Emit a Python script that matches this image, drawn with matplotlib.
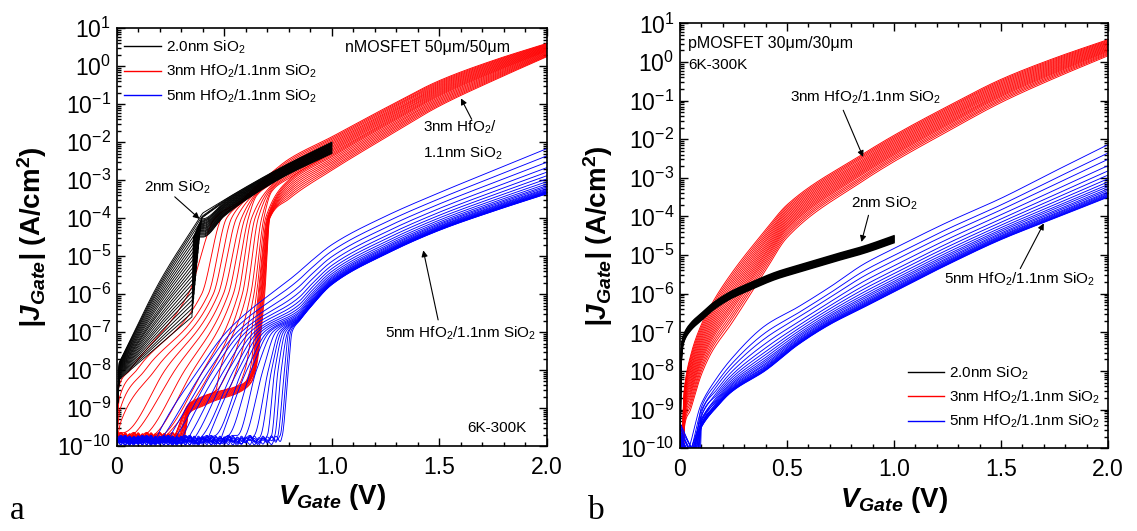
import numpy as np
import matplotlib
matplotlib.use("Agg")
import matplotlib.pyplot as plt
from matplotlib.ticker import LogLocator, MultipleLocator, FuncFormatter, NullFormatter
from matplotlib.lines import Line2D

plt.rcParams.update({
    "font.family": ["Liberation Sans", "DejaVu Sans"],
    "mathtext.fontset": "custom",
    "mathtext.rm": "Liberation Sans",
    "mathtext.it": "Liberation Sans:italic",
    "mathtext.bf": "Liberation Sans:bold",
    "mathtext.bfit": "Liberation Sans:italic:bold",
    "mathtext.default": "regular",
})

# ------------------------------------------------------------------
# Gate current density, log10(|J| / A cm^-2), temperature sweeps 6K-300K
# ------------------------------------------------------------------

# measurement noise floor of the nMOS sweeps, 20 mV steps from 0 V
floor_j = [-9.82, -9.90, -9.76, -9.88, -9.95, -9.80, -9.72, -9.86, -9.93, -9.78,
           -9.84, -9.96, -9.74, -9.88, -9.81, -9.92, -9.77, -9.85, -9.98, -9.79,
           -9.87, -9.73, -9.90, -9.83, -9.95, -9.76, -9.86, -9.80, -9.92, -9.74,
           -9.89, -9.82, -9.97, -9.78, -9.85, -9.91, -9.75, -9.88, -9.81, -9.94, -9.79]

# --- (a) nMOSFET, 2.0nm SiO2 ---
a_sio2_start = [-8.25, -8.23, -8.21, -8.19, -8.17, -8.15, -8.13, -8.11, -8.09, -8.07, -8.05, -8.03,
                -8.01, -7.99, -7.97, -7.95, -7.93, -7.91, -7.89, -7.87, -7.85, -7.83, -7.81, -7.80]
a_sio2_mid_j = [-7.33, -7.25, -7.18, -7.10, -7.02, -6.94, -6.86, -6.79, -6.71, -6.63, -6.56, -6.48,
                -6.42, -6.35, -6.27, -6.20, -6.13, -6.06, -5.99, -5.92, -5.85, -5.79, -5.73, -5.67]
a_sio2_kink_v = [0.350, 0.352, 0.354, 0.356, 0.358, 0.360, 0.362, 0.364, 0.366, 0.368, 0.370, 0.372,
                 0.374, 0.376, 0.378, 0.380, 0.382, 0.384, 0.386, 0.388, 0.390, 0.392, 0.394, 0.396]
a_sio2_kink_j = [-6.60, -6.48, -6.36, -6.24, -6.12, -6.00, -5.88, -5.76, -5.64, -5.52, -5.40, -5.28,
                 -5.16, -5.04, -4.92, -4.80, -4.68, -4.56, -4.44, -4.32, -4.20, -4.08, -3.98, -3.90]
a_sio2_pos = [0.00, 0.04, 0.09, 0.13, 0.17, 0.22, 0.26, 0.30, 0.35, 0.39, 0.43, 0.48,
              0.52, 0.57, 0.61, 0.65, 0.70, 0.74, 0.78, 0.83, 0.87, 0.91, 0.96, 1.00]
a_sio2_mid_v = 0.20
a_sio2_band_v = [0.40, 0.50, 0.62, 0.78, 1.00]
a_sio2_band_lo = [-4.50, -3.95, -3.45, -2.90, -2.30]
a_sio2_band_hi = [-3.92, -3.52, -3.12, -2.62, -2.00]

# --- (a) nMOSFET, 3nm HfO2/1.1nm SiO2 ---
a_hf3_start_v = [0.010, 0.012, 0.015, 0.020, 0.030, 0.060, 0.100, 0.140, 0.180, 0.220, 0.255, 0.262,
                 0.268, 0.274, 0.280, 0.285, 0.290, 0.294, 0.298, 0.302, 0.305, 0.308, 0.311, 0.314]
a_hf3_start_j = [-8.45, -8.75, -9.05, -9.35, -9.65, -9.78, -9.78, -9.78, -9.78, -9.78, -9.78, -9.78,
                 -9.78, -9.78, -9.78, -9.78, -9.78, -9.78, -9.78, -9.78, -9.78, -9.78, -9.78, -9.78]
a_hf3_v8 = [0.062, 0.093, 0.132, 0.178, 0.225, 0.271, 0.317, 0.356, 0.403, 0.441, 0.480, 0.519,
            0.557, 0.596, 0.620, 0.628, 0.631, 0.634, 0.636, 0.638, 0.640, 0.642, 0.644, 0.646]
a_hf3_v6 = [0.333, 0.395, 0.426, 0.449, 0.472, 0.496, 0.519, 0.542, 0.565, 0.584, 0.604, 0.623,
            0.638, 0.650, 0.658, 0.662, 0.666, 0.670, 0.673, 0.676, 0.679, 0.682, 0.685, 0.688]
a_hf3_v4 = [0.457, 0.488, 0.511, 0.534, 0.557, 0.580, 0.596, 0.612, 0.627, 0.643, 0.658, 0.674,
            0.684, 0.692, 0.698, 0.701, 0.703, 0.705, 0.707, 0.708, 0.709, 0.710, 0.711, 0.712]
a_hf3_shelf_off = [0.00, 0.00, 0.00, 0.00, 0.00, 0.00, 0.00, 0.00, 0.00, 0.00, 0.26, 0.24,
                   0.22, 0.20, 0.18, 0.16, 0.14, 0.12, 0.10, 0.08, 0.06, 0.04, 0.02, 0.00]
a_hf3_pos = [1.00, 0.96, 0.92, 0.88, 0.84, 0.80, 0.76, 0.72, 0.68, 0.64, 0.60, 0.56,
             0.52, 0.48, 0.44, 0.40, 0.35, 0.30, 0.25, 0.20, 0.15, 0.10, 0.05, 0.00]
a_hf3_shelf_v = [0.335, 0.400, 0.460, 0.520, 0.565, 0.600, 0.627]
a_hf3_shelf_j = [-9.15, -8.95, -8.80, -8.70, -8.60, -8.48, -8.31]
a_hf3_band_v = [0.58, 0.65, 0.72, 0.80, 1.00, 1.25, 1.50, 1.75, 2.00]
a_hf3_band_lo = [-4.37, -4.09, -3.85, -3.50, -2.74, -1.88, -1.05, -0.38, 0.25]
a_hf3_band_hi = [-3.53, -3.15, -2.80, -2.45, -1.86, -1.10, -0.38, 0.15, 0.60]

# --- (a) nMOSFET, 5nm HfO2/1.1nm SiO2 ---
a_hf5_start_v = [0.19, 0.22, 0.25, 0.28, 0.31, 0.34, 0.37, 0.40, 0.43, 0.46, 0.49,
                 0.52, 0.56, 0.60, 0.64, 0.67, 0.70, 0.72, 0.735, 0.75, 0.76, 0.77]
a_hf5_v8 = [0.380, 0.405, 0.430, 0.450, 0.475, 0.500, 0.520, 0.545, 0.565, 0.585, 0.605,
            0.625, 0.650, 0.680, 0.705, 0.720, 0.735, 0.750, 0.765, 0.780, 0.790, 0.798]
a_hf5_v7 = [0.510, 0.535, 0.560, 0.580, 0.600, 0.620, 0.640, 0.655, 0.670, 0.685, 0.700,
            0.710, 0.725, 0.740, 0.755, 0.765, 0.775, 0.785, 0.795, 0.800, 0.808, 0.815]
a_hf5_pos = [1.00, 0.84, 0.70, 0.58, 0.48, 0.40, 0.33, 0.27, 0.22, 0.18, 0.15,
             0.12, 0.10, 0.08, 0.065, 0.05, 0.04, 0.03, 0.02, 0.012, 0.005, 0.00]
a_hf5_band_v = [0.85, 0.90, 1.00, 1.25, 1.50, 1.75, 2.00]
a_hf5_band_lo = [-6.70, -6.35, -5.75, -4.95, -4.32, -3.82, -3.36]
a_hf5_band_hi = [-5.40, -5.15, -4.70, -3.95, -3.33, -2.75, -2.17]

# --- (b) pMOSFET, 2.0nm SiO2 ---
b_sio2_v = [0.000, 0.002, 0.005, 0.010, 0.020, 0.050, 0.100, 0.160, 0.240, 0.320,
            0.450, 0.550, 0.700, 0.860, 1.000]
b_sio2_j = [-10.20, -8.90, -7.90, -7.45, -7.22, -6.95, -6.69, -6.40, -6.12, -5.92,
            -5.62, -5.45, -5.20, -4.95, -4.68]
b_sio2_off = [0.00, 0.02, 0.04, 0.06, 0.08, 0.10, 0.12, 0.14, 0.16, 0.18]

# --- (b) pMOSFET, 3nm HfO2/1.1nm SiO2 ---
b_hf3_v = [0.020, 0.050, 0.100, 0.150, 0.240, 0.400, 0.500, 0.850, 1.000, 1.250, 1.500, 1.750, 2.000]
b_hf3_hi = [-8.50, -7.60, -6.80, -6.25, -5.48, -4.35, -3.70, -2.40, -1.90, -1.15, -0.45, 0.10, 0.58]
b_hf3_lo = [-9.50, -9.00, -8.10, -7.50, -6.78, -5.40, -4.55, -3.10, -2.58, -1.80, -1.05, -0.42, 0.16]
b_hf3_pos = [1.00, 0.95, 0.90, 0.85, 0.80, 0.75, 0.70, 0.65, 0.60, 0.55,
             0.50, 0.45, 0.40, 0.35, 0.30, 0.25, 0.19, 0.13, 0.07, 0.00]
b_hf3_zero_j = [-9.20, -9.30, -9.25, -9.40, -9.35, -9.50, -9.45, -9.55, -9.60, -9.50,
                -9.65, -9.70, -9.60, -9.75, -9.70, -9.80, -9.75, -9.85, -9.80, -9.90]
b_hf3_dip_v = [0.006, 0.007, 0.008, 0.009, 0.010, 0.011, 0.011, 0.012, 0.012, 0.013,
               0.013, 0.014, 0.014, 0.015, 0.015, 0.016, 0.016, 0.017, 0.017, 0.018]

# --- (b) pMOSFET, 5nm HfO2/1.1nm SiO2 ---
b_hf5_v = [0.10, 0.17, 0.24, 0.40, 0.55, 0.70, 0.86, 1.00, 1.25, 1.50, 1.75, 2.00]
b_hf5_hi = [-8.85, -8.20, -7.69, -6.82, -6.35, -5.83, -5.23, -4.83, -4.15, -3.53, -2.83, -2.14]
b_hf5_lo = [-9.46, -8.95, -8.55, -7.99, -7.33, -6.80, -6.35, -5.95, -5.25, -4.60, -4.05, -3.50]
b_hf5_pos = [1.00, 0.84, 0.72, 0.60, 0.50, 0.42, 0.35, 0.29, 0.24, 0.20,
             0.16, 0.13, 0.10, 0.08, 0.06, 0.045, 0.03, 0.018, 0.008, 0.00]
b_hf5_zero_j = [-9.50, -9.70, -9.30, -9.80, -9.60, -9.40, -9.75, -9.55, -9.65, -9.35,
                -9.85, -9.45, -9.70, -9.60, -9.90, -9.50, -9.80, -9.65, -9.75, -9.55]
b_hf5_dip_v = [0.020, 0.060, 0.035, 0.080, 0.045, 0.090, 0.030, 0.070, 0.050, 0.085,
               0.025, 0.065, 0.040, 0.075, 0.055, 0.095, 0.030, 0.060, 0.045, 0.080]

legend_labels = [r"2.0nm SiO$_2$", r"3nm HfO$_2$/1.1nm SiO$_2$", r"5nm HfO$_2$/1.1nm SiO$_2$"]
family_colors = ["black", "red", "blue"]

LW = 0.65
floor_v = np.arange(len(floor_j)) * 0.02


def band(lo, hi, p):
    lo = np.asarray(lo, float)
    hi = np.asarray(hi, float)
    return lo + p * (hi - lo)


def smooth_line(x, y, npts=900):
    """Shape-preserving (monotone) cubic through the knots, sampled finely for drawing."""
    x = np.asarray(x, float)
    y = np.asarray(y, float)
    order = np.argsort(x, kind="stable")
    x, y = x[order], y[order]
    keep = np.concatenate([[True], np.diff(x) > 1e-6])
    x, y = x[keep], y[keep]
    n = len(x)
    if n < 3:
        return x, y
    h = np.diff(x)
    d = np.diff(y) / h
    m = np.zeros(n)
    m[0], m[-1] = d[0], d[-1]
    for k in range(1, n - 1):
        if d[k - 1] * d[k] <= 0:
            m[k] = 0.0
        else:
            w1 = 2 * h[k] + h[k - 1]
            w2 = h[k] + 2 * h[k - 1]
            m[k] = (w1 + w2) / (w1 / d[k - 1] + w2 / d[k])
    xs = np.unique(np.concatenate([np.linspace(x[0], x[-1], npts), x]))
    idx = np.clip(np.searchsorted(x, xs, side="right") - 1, 0, n - 2)
    t = (xs - x[idx]) / h[idx]
    h00 = 2 * t ** 3 - 3 * t ** 2 + 1
    h10 = t ** 3 - 2 * t ** 2 + t
    h01 = -2 * t ** 3 + 3 * t ** 2
    h11 = t ** 3 - t ** 2
    ys = h00 * y[idx] + h10 * h[idx] * m[idx] + h01 * y[idx + 1] + h11 * h[idx] * m[idx + 1]
    return xs, ys


def draw(ax, v, j, color, z, lw=LW):
    xs, ys = smooth_line(v, j)
    ax.plot(xs, 10.0 ** ys, color=color, lw=lw, zorder=z)


fig = plt.figure(figsize=(11.37, 5.31), dpi=100)
ax1 = fig.add_axes([0.1026, 0.160, 0.3785, 0.787])
ax2 = fig.add_axes([0.598, 0.156, 0.3765, 0.800])

# ---------------- panel (a) ----------------
# 3nm HfO2 stack
for i in range(len(a_hf3_v8)):
    sv, sj = a_hf3_start_v[i], a_hf3_start_j[i]
    fj = np.roll(np.asarray(floor_j) + 0.08, 3 * i)
    if sj > -9.7:
        v = [0.0]
        j = [fj[0]]
    else:
        m = floor_v < sv - 0.005
        v = list(floor_v[m])
        j = list(fj[m])
    v.append(sv)
    j.append(sj)
    if sv >= 0.25:
        for shv, shj in zip(a_hf3_shelf_v, a_hf3_shelf_j):
            if sv + 0.01 < shv < a_hf3_v8[i] - 0.015:
                v.append(shv)
                j.append(shj + a_hf3_shelf_off[i])
    v += [a_hf3_v8[i], a_hf3_v6[i], a_hf3_v4[i]]
    j += [-8.0, -6.0, -4.0]
    bv = np.asarray(a_hf3_band_v)
    bj = band(a_hf3_band_lo, a_hf3_band_hi, a_hf3_pos[i])
    keep = bv > a_hf3_v4[i] + 0.03
    v += list(bv[keep])
    j += list(bj[keep])
    draw(ax1, v, j, "red", 2.0)

# 5nm HfO2 stack
for i in range(len(a_hf5_v8)):
    sv = a_hf5_start_v[i]
    fj = np.roll(np.asarray(floor_j), 5 * i + 2)
    m = floor_v < sv - 0.005
    v = list(floor_v[m]) + [sv, a_hf5_v8[i], a_hf5_v7[i]]
    j = list(fj[m]) + [-9.72, -8.0, -7.0]
    bv = np.asarray(a_hf5_band_v)
    bj = band(a_hf5_band_lo, a_hf5_band_hi, a_hf5_pos[i])
    keep = bv > a_hf5_v7[i] + 0.03
    v += list(bv[keep])
    j += list(bj[keep])
    draw(ax1, v, j, "blue", 2.1)

# 2.0nm SiO2: low-bias branch, jump at the kink, then the common upper band
for i in range(len(a_sio2_kink_v)):
    k, e = a_sio2_kink_v[i], a_sio2_kink_j[i]
    bv = np.asarray(a_sio2_band_v)
    bj = band(a_sio2_band_lo, a_sio2_band_hi, a_sio2_pos[i])
    vj = k + 0.006
    jj = max(np.interp(vj, bv, bj), e + 0.04)
    keep = bv > vj + 0.005
    lo_v, lo_j = smooth_line([0.012, a_sio2_mid_v, k], [a_sio2_start[i], a_sio2_mid_j[i], e], 200)
    up_v, up_j = smooth_line([vj] + list(bv[keep]), [jj] + list(bj[keep]), 300)
    v = np.concatenate([[0.0, 0.004], lo_v, up_v])
    j = np.concatenate([[-9.75, -8.90], lo_j, up_j])
    ax1.plot(v, 10.0 ** j, color="black", lw=LW, zorder=2.2)

# ---------------- panel (b) ----------------
for i in range(len(b_hf3_pos)):
    v = [0.0, b_hf3_dip_v[i]] + list(b_hf3_v)
    j = [b_hf3_zero_j[i], -10.05] + list(band(b_hf3_lo, b_hf3_hi, b_hf3_pos[i]))
    draw(ax2, v, j, "red", 2.0)

for i in range(len(b_hf5_pos)):
    v = [0.0, b_hf5_dip_v[i]] + list(b_hf5_v)
    j = [b_hf5_zero_j[i], -10.2] + list(band(b_hf5_lo, b_hf5_hi, b_hf5_pos[i]))
    draw(ax2, v, j, "blue", 2.1)

for off in b_sio2_off:
    draw(ax2, b_sio2_v, np.asarray(b_sio2_j) + off, "black", 2.2, lw=1.1)


# ---------------- axes styling ----------------
def style(ax):
    ax.set_yscale("log")
    ax.set_xlim(0, 2.0)
    ax.set_ylim(1e-10, 10)
    ax.xaxis.set_major_locator(MultipleLocator(0.5))
    ax.xaxis.set_minor_locator(MultipleLocator(0.1))
    ax.xaxis.set_major_formatter(FuncFormatter(lambda x, p: "0" if abs(x) < 1e-9 else f"{x:.1f}"))
    ax.yaxis.set_major_locator(LogLocator(base=10, numticks=20))
    ax.yaxis.set_minor_locator(LogLocator(base=10, subs=np.arange(2, 10), numticks=20))
    ax.yaxis.set_minor_formatter(NullFormatter())
    ax.tick_params(which="both", direction="in", top=True, right=True, width=1.0, labelsize=16.5)
    ax.tick_params(which="major", length=6)
    ax.tick_params(which="minor", length=3)
    ax.tick_params(axis="x", pad=7)
    ax.tick_params(axis="y", pad=4)
    for s in ax.spines.values():
        s.set_linewidth(1.2)
    ax.set_xlabel(r"$\mathbfit{V}_{\mathbfit{Gate}}$ (V)", fontsize=20, fontweight="bold")
    ax.set_ylabel(r"$\mathbfit{|J}_{\mathbfit{Gate}}\mathbfit{|}$ (A/cm$^{\mathbf{2}}$)",
                  fontsize=20, fontweight="bold")
    ax.xaxis.label.set_va("center")
    ax.xaxis.set_label_coords(0.5, -0.122)
    ax.yaxis.label.set_va("center")


style(ax1)
style(ax2)
ax1.yaxis.set_label_coords(-0.197, 0.5)
ax2.yaxis.set_label_coords(-0.19, 0.5)

fs = 11
handles = [Line2D([], [], color=c, lw=1.0) for c in family_colors]
ax1.legend(handles, legend_labels, loc="upper left", bbox_to_anchor=(0.018, 0.975), frameon=False,
           fontsize=fs, handlelength=2.4, handletextpad=0.3, labelspacing=0.45,
           borderaxespad=0, borderpad=0)
ax2.legend(handles, legend_labels, loc="lower left", bbox_to_anchor=(0.532, 0.042), frameon=False,
           fontsize=fs, handlelength=2.4, handletextpad=0.3, labelspacing=0.45,
           borderaxespad=0, borderpad=0)

arrow = dict(arrowstyle="-|>", color="black", lw=0.8, mutation_scale=9, shrinkA=0, shrinkB=0)

# panel (a) annotations
ax1.text(1.06, 10 ** 0.5, "nMOSFET 50\u03bcm/50\u03bcm", fontsize=fs + 0.5, va="center")
ax1.text(0.128, 10 ** -3.18, r"2nm SiO$_2$", fontsize=fs, va="center")
ax1.annotate("", xy=(0.385, 10 ** -4.02), xytext=(0.27, 10 ** -3.44), arrowprops=arrow)
ax1.text(1.425, 10 ** -1.60, r"3nm HfO$_2$/", fontsize=fs, va="center")
ax1.text(1.425, 10 ** -2.30, r"1.1nm SiO$_2$", fontsize=fs, va="center")
ax1.annotate("", xy=(1.60, 10 ** -0.85), xytext=(1.65, 10 ** -1.40), arrowprops=arrow)
ax1.text(1.247, 10 ** -7.03, r"5nm HfO$_2$/1.1nm SiO$_2$", fontsize=fs, va="center")
ax1.annotate("", xy=(1.425, 10 ** -4.85), xytext=(1.494, 10 ** -6.68), arrowprops=arrow)
ax1.text(1.63, 10 ** -9.52, "6K-300K", fontsize=fs, va="center")

# panel (b) annotations
ax2.text(0.037, 10 ** 0.49, "pMOSFET 30\u03bcm/30\u03bcm", fontsize=fs + 0.5, va="center")
ax2.text(0.037, 10 ** -0.09, "6K-300K", fontsize=fs, va="center")
ax2.text(0.514, 10 ** -0.91, r"3nm HfO$_2$/1.1nm SiO$_2$", fontsize=fs, va="center")
ax2.annotate("", xy=(0.856, 10 ** -2.46), xytext=(0.763, 10 ** -1.25), arrowprops=arrow)
ax2.text(0.80, 10 ** -3.66, r"2nm SiO$_2$", fontsize=fs, va="center")
ax2.annotate("", xy=(0.848, 10 ** -4.66), xytext=(0.881, 10 ** -3.97), arrowprops=arrow)
ax2.text(1.232, 10 ** -5.62, r"5nm HfO$_2$/1.1nm SiO$_2$", fontsize=fs, va="center")
ax2.annotate("", xy=(1.70, 10 ** -4.18), xytext=(1.59, 10 ** -5.35), arrowprops=arrow)

fig.text(0.009, 0.022, "a", fontsize=24, family="Liberation Serif")
fig.text(0.517, 0.022, "b", fontsize=24, family="Liberation Serif")

fig.savefig("out.png", dpi=100)
